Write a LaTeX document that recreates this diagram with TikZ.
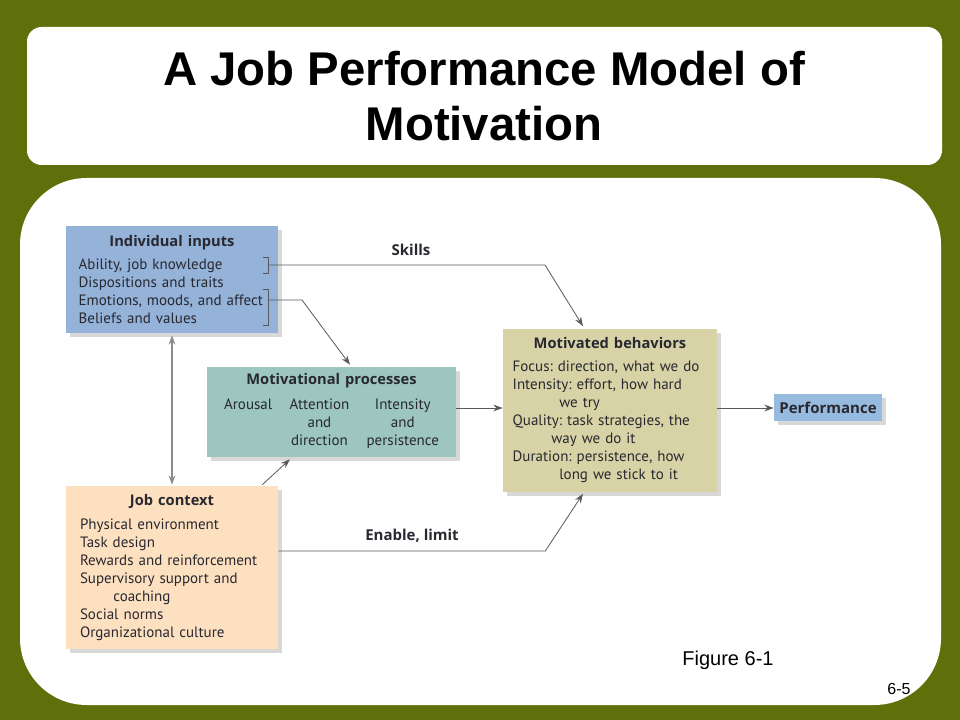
\documentclass[tikz,border=0pt]{standalone}
\usepackage{fontspec}
\setmainfont{PT Sans}
\newfontfamily\titlefont{Liberation Sans}
\newfontfamily\headfont{Open Sans}
\usepackage{xcolor}
\usepackage{tikz}
\usetikzlibrary{positioning,arrows.meta,calc,shadows}

\definecolor{olivebg}{RGB}{95,112,10}
\definecolor{ink}{RGB}{40,40,48}
\definecolor{inblue}{RGB}{149,178,216}
\definecolor{procteal}{RGB}{156,198,190}
\definecolor{behavkhaki}{RGB}{216,211,166}
\definecolor{ctxpeach}{RGB}{253,224,192}
\definecolor{perfblue}{RGB}{150,187,222}
\newcommand{\boxhead}[1]{{\centering\headfont\fontsize{11}{13.5}\selectfont\bfseries #1\par}}
\frenchspacing

\begin{document}
\begin{tikzpicture}[x=0.75pt, y=-0.75pt,
  box/.style={fill=#1, inner sep=0pt, text=ink, align=left,
    font=\fontsize{11.25}{13.5}\selectfont,
    drop shadow={shadow xshift=3pt, shadow yshift=-3pt, opacity=.3}},
  lbl/.style={text=ink, font=\headfont\fontsize{11.25}{13}\selectfont\bfseries},
  arr/.style={-{Stealth[length=7pt, width=5pt]}, line width=.6pt, draw=black!65},
  dbl/.style={{Stealth[length=7pt, width=5pt]}-{Stealth[length=7pt, width=5pt]}, line width=.8pt, draw=black!45},
  brk/.style={line width=.6pt, draw=black!65}
]
\useasboundingbox (0,0) rectangle (960,720);
\fill[olivebg] (0,0) rectangle (960,720);
\fill[white, rounded corners=11pt] (27,27) rectangle (942,165);
\fill[white, rounded corners=50pt] (20,178) rectangle (941,705);

\node[font=\titlefont\fontsize{35.5}{41}\selectfont\bfseries, align=center] (title) at (484,96)
  {A Job Performance Model of\\Motivation};

\node[box=inblue, minimum width=159pt, minimum height=80.25pt, text width=140pt] (inputs) at (172,279.5)
  {\boxhead{Individual inputs}\vspace{4pt}
   Ability, job knowledge\\
   Dispositions and traits\\
   Emotions, moods, and affect\\
   Beliefs and values};

\node[box=procteal, minimum width=186.75pt, minimum height=67.5pt, text width=180pt] (procs) at (331.5,412)
  {\boxhead{Motivational processes}\vspace{6pt}
   {\centering\begin{tabular}{@{}c@{\hspace{13pt}}c@{\hspace{13pt}}c@{}}
    Arousal & Attention & Intensity\\
            & and       & and\\
            & direction & persistence
   \end{tabular}\par}};

\node[box=behavkhaki, minimum width=160.5pt, minimum height=122.25pt, text width=146pt] (behav) at (610,410)
  {\boxhead{Motivated behaviors}\vspace{4pt}
   Focus: direction, what we do\\
   Intensity: effort, how hard\\
   \hspace*{35pt}we try\\
   Quality: task strategies, the\\
   \hspace*{29pt}way we do it\\
   Duration: persistence, how\\
   \hspace*{35pt}long we stick to it};

\node[box=perfblue, minimum width=81pt, minimum height=20.25pt, align=center,
  font=\headfont\fontsize{11.25}{12}\selectfont\bfseries] (perf) at (828,407.5) {Performance};

\node[box=ctxpeach, minimum width=159pt, minimum height=122.25pt, text width=138pt] (context) at (172,567.5)
  {\boxhead{Job context}\vspace{4pt}
   Physical environment\\
   Task design\\
   Rewards and reinforcement\\
   Supervisory support and\\
   \hspace*{25pt}coaching\\
   Social norms\\
   Organizational culture};

% brackets on the inputs box
\draw[brk] (263,257) -- (268,257) -- (268,273) -- (263,273);
\draw[brk] (263,289) -- (268,289) -- (268,325) -- (263,325);
\coordinate (skl) at (268,265);
\coordinate (emo) at (268,300);

\draw[arr] (skl) -- ++(277,0) -- ($(behav.north)+(-27,-2)$);
\draw[arr] (emo) -- ++(34,0) -- ($(procs.north)+(18.5,-2)$);
\draw[dbl] ($(inputs.south)+(0,2)$) -- ($(context.north)+(0,-1)$);
\draw[arr] ($(context.north east)+(-16,-1)$) -- ($(procs.south)+(-41.5,2)$);
\draw[arr] (procs.east |- 0,408) -- (behav.west |- 0,408);
\draw[arr] (behav.east |- 0,408) -- (perf.west |- 0,408);
\draw[arr] ($(context.east)+(0,-16.5)$) -- ++(267,0) -- ($(behav.south)+(-27,2)$);

\node[lbl] (skills) at (411,250) {Skills};
\node[lbl] (enable) at (412,536) {Enable, limit};

\node[font=\titlefont\fontsize{15}{18}\selectfont] (figref) at (728,660) {Figure 6-1};
\node[font=\titlefont\fontsize{12}{14}\selectfont] (slideno) at (899,689) {6-5};
\end{tikzpicture}
\end{document}
